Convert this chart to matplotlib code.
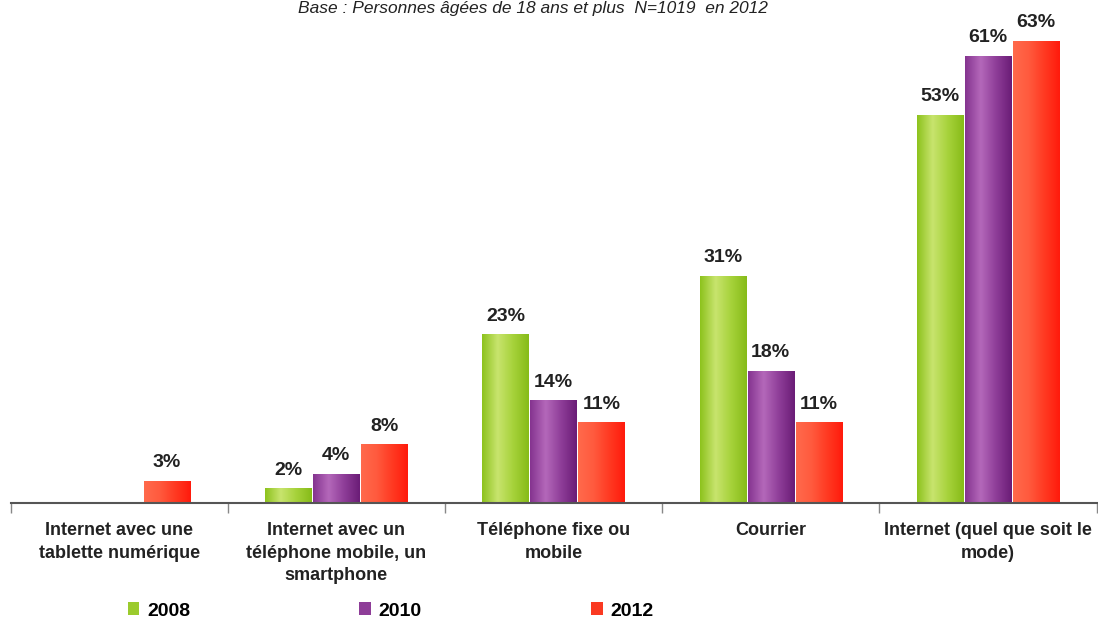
import numpy as np
import matplotlib
matplotlib.use("Agg")
import matplotlib.pyplot as plt
from matplotlib.colors import LinearSegmentedColormap
from matplotlib.patches import Patch

plt.rcParams['font.family'] = ['Liberation Sans', 'DejaVu Sans']

categories = ["Internet avec une\ntablette numérique",
              "Internet avec un\ntéléphone mobile, un\nsmartphone",
              "Téléphone fixe ou\nmobile",
              "Courrier",
              "Internet (quel que soit le\nmode)"]
years = ["2008", "2010", "2012"]
v2008 = [None, 2, 23, 31, 53]
v2010 = [None, 4, 14, 18, 61]
v2012 = [3, 8, 11, 11, 63]
title = "Base : Personnes âgées de 18 ans et plus  N=1019  en 2012"

series = [v2008, v2010, v2012]
base_colors = ["#9bcb2d", "#8e3d98", "#fa3a22"]
grads = [["#8cc21c", "#c8e46e", "#a6d23a", "#86bb18"],
         ["#84338f", "#b468ba", "#8e3d98", "#6a1c76"],
         ["#ff6a4c", "#ff5a3e", "#ff3a22", "#ff1a0c"]]

fig = plt.figure(figsize=(10.98, 6.21), dpi=100)
ymax = 66
ax = fig.add_axes([10.5/1098, (621-503)/621, 1086/1098, ymax*7.33/621])

x = np.arange(len(categories))
w = 0.212
step = 0.221
gradient = np.linspace(0, 1, 256).reshape(1, -1)

for i, (vals, col, g) in enumerate(zip(series, base_colors, grads)):
    cmap = LinearSegmentedColormap.from_list(f"g{i}", g)
    xs = [xi + (i - 1) * step for xi, v in zip(x, vals) if v is not None]
    hs = [v for v in vals if v is not None]
    bars = ax.bar(xs, hs, width=w, color=col, edgecolor='none', zorder=2)
    for b, h in zip(bars, hs):
        bx, bw = b.get_x(), b.get_width()
        im = ax.imshow(gradient, cmap=cmap, aspect='auto',
                       extent=[bx, bx + bw, 0, h], zorder=3, interpolation='bicubic')
        im.set_clip_path(b)
        ax.annotate(f"{h}%", (bx + bw / 2, h), xytext=(0, 7), textcoords='offset points',
                    ha='center', va='bottom', fontsize=14, fontweight='bold', color='#222222',
                    annotation_clip=False)

ax.set_xlim(-0.5, len(categories) - 0.5)
ax.set_ylim(0, ymax)
for s in ['top', 'right', 'left']:
    ax.spines[s].set_visible(False)
ax.spines['bottom'].set_color('#555555')
ax.spines['bottom'].set_linewidth(1.5)
ax.spines['bottom'].set_zorder(5)
ax.set_yticks([])
ax.set_xticks(x)
ax.set_xticklabels(categories, fontsize=13, fontweight='bold', color='#222222', linespacing=1.4)
ax.tick_params(axis='x', which='major', length=0, pad=14)
ax.set_xticks(np.arange(-0.5, len(categories)), minor=True)
ax.tick_params(axis='x', which='minor', length=7, width=1, color='#888888')

handles = [Patch(facecolor=c, edgecolor='none') for c in base_colors]
fig.legend(handles, years, loc='center left', bbox_to_anchor=(110/1098, 1 - 611/621),
           ncol=3, frameon=False, handlelength=0.6, handleheight=0.6, handletextpad=0.4,
           columnspacing=8.7, prop={'size': 14, 'weight': 'bold'})

fig.text(0.485, 1 - 8/621, title, ha='center', va='center', fontsize=12.5,
         style='italic', color='#222222')

fig.savefig("out.png", dpi=100)
